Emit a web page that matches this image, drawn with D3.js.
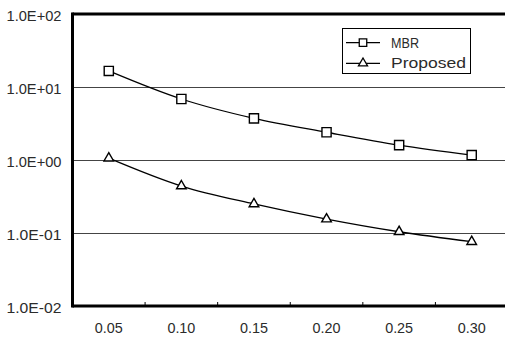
<!DOCTYPE html>
<html><head><meta charset="utf-8">
<script src="https://cdn.jsdelivr.net/npm/d3@7"></script>
<style>body{margin:0;background:#fff}svg{display:block}</style>
</head><body><svg id="c" width="505" height="338"></svg>
<script>
const categories = ["0.05","0.10","0.15","0.20","0.25","0.30"];
const mbr = [16.6, 6.85, 3.72, 2.40, 1.60, 1.17];
const proposed = [1.06, 0.44, 0.25, 0.155, 0.104, 0.076];
const yTicks = [1e-2, 1e-1, 1e0, 1e1, 1e2];
const yTickLabels = ["1.0E-02","1.0E-01","1.0E+00","1.0E+01","1.0E+02"];
const seriesNames = ["MBR","Proposed"];

const svg = d3.select("#c");
const L = 72.5, T = 14, W = 435.5, H = 292;
const font = "'Liberation Sans', Arial, sans-serif";
const textColor = "#2b2b2b";
const x = d3.scaleBand().domain(categories).range([L, L + W]);
const y = d3.scaleLog().domain([1e-2, 1e2]).range([T + H, T]);

// gridlines
svg.append("g").selectAll("line").data(yTicks.slice(1, 4)).join("line")
  .attr("x1", L).attr("x2", L + W).attr("y1", d => y(d)).attr("y2", d => y(d))
  .attr("stroke", "#444").attr("stroke-width", 1).attr("shape-rendering","crispEdges");

// y labels
svg.append("g").selectAll("text").data(yTicks).join("text")
  .attr("x", 61.5).attr("y", d => y(d) + 6.8).attr("text-anchor", "end")
  .attr("font-family", font).attr("font-size", 14).attr("fill", textColor)
  .attr("textLength", 55).attr("lengthAdjust", "spacingAndGlyphs")
  .text((d, i) => yTickLabels[i]);

// x axis
const xAxis = d3.axisBottom(x).tickSize(0).tickPadding(17.5);
const gx = svg.append("g").attr("transform", `translate(0,${T + H})`).call(xAxis);
gx.select(".domain").remove();
gx.selectAll("text").attr("font-family", font).attr("font-size", 14).attr("fill", textColor)
  .attr("textLength", 28).attr("lengthAdjust", "spacingAndGlyphs");
// tick marks between categories
svg.append("g").selectAll("line").data(categories.slice(1)).join("line")
  .attr("x1", d => x(d)).attr("x2", d => x(d)).attr("y1", T + H).attr("y2", T + H - 4)
  .attr("stroke", "#000").attr("stroke-width", 1);

// frame: top, left, bottom thick
svg.append("line").attr("x1", L).attr("x2", L + W).attr("y1", T).attr("y2", T).attr("stroke", "#000").attr("stroke-width", 3);
svg.append("line").attr("x1", L).attr("x2", L + W).attr("y1", T + H).attr("y2", T + H).attr("stroke", "#000").attr("stroke-width", 3);
svg.append("line").attr("x1", L).attr("x2", L).attr("y1", T - 1.5).attr("y2", T + H + 1.5).attr("stroke", "#000").attr("stroke-width", 3);

const cx = d => x(d) + x.bandwidth() / 2;
const line = d3.line().x(d => cx(d[0])).y(d => y(d[1])).curve(d3.curveCatmullRom.alpha(0.5));
const sq = d3.symbol().type(d3.symbolSquare).size(84);
const tri = d3.symbol().type(d3.symbolTriangle).size(40);

function series(vals, sym) {
  const pts = categories.map((c, i) => [c, vals[i]]);
  svg.append("path").attr("d", line(pts)).attr("fill", "none").attr("stroke", "#000").attr("stroke-width", 1.3);
  svg.append("g").selectAll("path").data(pts).join("path")
    .attr("d", sym).attr("transform", d => `translate(${cx(d[0])},${y(d[1])})`)
    .attr("fill", "#fff").attr("stroke", "#000").attr("stroke-width", 1.4);
}
series(mbr, sq);
series(proposed, tri);

// legend
const lg = svg.append("g");
lg.append("rect").attr("x", 342.5).attr("y", 28.5).attr("width", 128).attr("height", 45)
  .attr("fill", "#fff").attr("stroke", "#000").attr("stroke-width", 1);
const legendLen = [28, 75];
[sq, tri].forEach((s, i) => {
  const yy = 42.7 + i * 20.6;
  lg.append("line").attr("x1", 346).attr("x2", 380).attr("y1", yy).attr("y2", yy).attr("stroke", "#000").attr("stroke-width", 1.3);
  lg.append("path").attr("d", d3.symbol().type(i ? d3.symbolTriangle : d3.symbolSquare).size(i ? 36 : 56))
    .attr("transform", `translate(363,${yy})`).attr("fill", "#fff").attr("stroke", "#000").attr("stroke-width", 1.3);
  lg.append("text").attr("x", 391).attr("y", yy + 5).attr("font-family", font).attr("font-size", 14)
    .attr("textLength", legendLen[i]).attr("lengthAdjust", "spacingAndGlyphs")
    .attr("fill", textColor).text(seriesNames[i]);
});
</script></body></html>
